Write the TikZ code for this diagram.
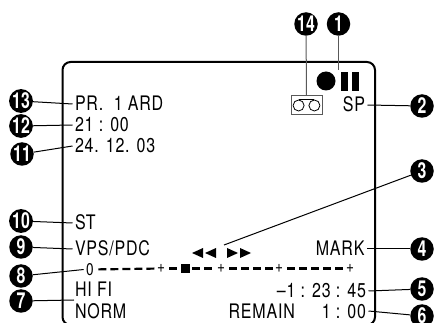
\documentclass[tikz,border=0pt]{standalone}
\usepackage{fontspec}
\setmainfont[FakeStretch=0.8,LetterSpace=4]{TeX Gyre Heros}
\newfontfamily\badgefont[FakeStretch=0.72]{TeX Gyre Heros}
\usetikzlibrary{positioning}

\tikzset{
  screen/.style={line width=2pt,rounded corners=8pt},
  lead/.style={line width=1pt},
  greylead/.style={line width=1pt,draw=black!65},
  osd/.style={inner sep=0pt,outer xsep=2.5pt,outer ysep=0pt,text height=14pt,text depth=0pt,
    font=\fontsize{20}{21}\selectfont},
  tick/.style={inner sep=0pt,outer sep=2.5pt,font=\fontsize{17}{18}\selectfont},
  badge/.style={circle,fill=black,text=white,inner sep=0pt,minimum size=23.5pt,
    font=\badgefont\bfseries\fontsize{22}{23}\selectfont},
  meterdash/.style={line width=2.2pt,dash pattern=on 8pt off 4pt,shorten <=2pt},
  tape/.style={fill=black,draw=none},
  reel/.style={circle,draw,line width=0.8pt,inner sep=0pt,minimum size=11pt}
}

\begin{document}
\begin{tikzpicture}[x=1pt,y=-1pt]
  \path[use as bounding box,clip] (0,0) rectangle (434,323);
  \draw[screen] (62.5,62) rectangle (375,325);

  \node (pr) [osd,anchor=north west] at (72.5,97) {PR.\ \ 1 ARD};
  \node (clock) [osd,below=7pt of pr.south west,anchor=north west] {21 : 00};
  \node (date) [osd,below=7pt of clock.south west,anchor=north west] {24. 12. 03};
  \node (st) [osd,anchor=north west] at (72.5,216) {ST};
  \node (vps) [osd,anchor=north west] at (72.5,242) {VPS/PDC};
  \node (zero) [tick] at (90,269.5) {0};
  \node (hifi) [osd,anchor=north west] at (72.5,283) {HI FI};
  \node (norm) [osd,below=7pt of hifi.south west,anchor=north west] {NORM};
  \node (sp) [osd,anchor=north east] at (367.5,98) {SP};
  \node (mark) [osd,anchor=north east] at (367,242) {MARK};
  \node (counter) [osd,anchor=north east] at (368.5,284) {--1 : 23 : 45};
  \node (remain) [osd,below=6pt of counter.south east,anchor=north east] {REMAIN\hspace{27pt}1 : 00};

  \node (plusa) [tick] at (161,268.5) {+};
  \node (plusb) [tick] at (221,268.5) {+};
  \node (plusc) [tick] at (279,268.5) {+};
  \node (plusd) [tick] at (350,268.5) {+};
  \node (slider) [fill=black,inner sep=0pt,minimum size=9pt] at (185.5,268.5) {};
  \path[meterdash]
    (zero) edge (plusa)
    (plusa) edge (slider)
    (slider) edge (plusb)
    (plusb) edge (plusc)
    (plusc) edge (plusd);

  \node (rec) [circle,fill=black,inner sep=0pt,minimum size=19pt] at (326,81) {};
  \node (pausea) [tape,inner sep=0pt,minimum width=7pt,minimum height=19pt] at (344.5,81.5) {};
  \node (pauseb) [tape,inner sep=0pt,minimum width=7pt,minimum height=19pt] at (355.5,81.5) {};
  \node (cassette) [draw=black!65,line width=1pt,inner sep=0pt,minimum width=31pt,minimum height=19pt] at (306.5,105.5) {};
  \node (reela) [reel,left=2pt of cassette.center] {};
  \node (reelb) [reel,right=2pt of cassette.center] {};
  \draw[line width=0.8pt] (reela.north) -- (reelb.north);

  \path[tape] (216,248) -- (216,258) -- (205,253) -- cycle
              (203,248) -- (203,258) -- (192,253) -- cycle
              (227,248) -- (227,258) -- (238,253) -- cycle
              (240,248) -- (240,258) -- (251,253) -- cycle;

  \node (n13) [badge] at (21,101) {13};
  \node (n12) [badge] at (21,126) {12};
  \node (n11) [badge] at (22,154) {11};
  \node (n10) [badge] at (21,221) {10};
  \node (n9) [badge] at (21,247) {9};
  \node (n8) [badge] at (21,276) {8};
  \node (n7) [badge] at (21,301) {7};
  \node (n14) [badge] at (306,24) {14};
  \node (n1) [badge] at (338.5,24) {1};
  \node (n2) [badge] at (422,106) {2};
  \node (n3) [badge] at (422,171) {3};
  \node (n4) [badge] at (422,249) {4};
  \node (n5) [badge] at (422,289) {5};
  \node (n6) [badge] at (422,316) {6};

  \coordinate (normtop) at (74,300);
  \coordinate (pausetop) at (338.5,70);
  \coordinate (rewind) at (224,245);

  \path[lead]
    (n13) edge (pr.west)
    (n12) edge (clock.west)
    (n11) edge (date.west)
    (n10) edge (st.west)
    (n9) edge (vps.west)
    (n8) edge (zero.west)
    (n7) edge (normtop)
    (n2) edge (sp.east)
    (n3) edge (rewind)
    (n4) edge (mark.east)
    (n5) edge (counter.east)
    (n6) edge (remain.east);
  \path[greylead]
    (n14) edge (cassette.north)
    (n1) edge (pausetop);

\end{tikzpicture}
\end{document}
